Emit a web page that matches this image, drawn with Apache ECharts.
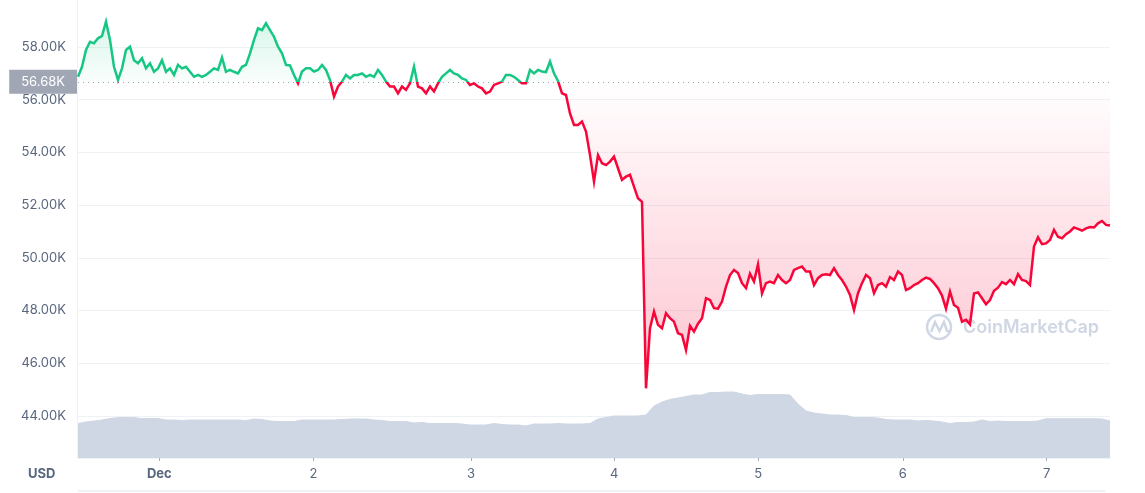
<!DOCTYPE html>
<html><head><meta charset="utf-8">
<script src="https://cdn.jsdelivr.net/npm/echarts@6/dist/echarts.min.js"></script>
<style>html,body{margin:0;padding:0;background:#fff}#c{width:1145px;height:493px}</style>
</head><body><div id="c"></div>
<script>
// Price in thousands of USD, one sample per step along the x index
const prices = [
56.87,57.25,57.89,58.2,58.14,58.33,58.42,58.96,58.27,57.25,
56.75,57.19,57.89,58.01,57.5,57.38,57.57,57.19,57.38,57.06,
57.19,57.5,57.06,57.19,56.94,57.32,57.19,57.25,57.06,56.87,
56.94,56.87,56.94,57.06,57.19,57.13,57.6,57.06,57.13,57.06,
57.0,57.25,57.32,57.76,58.27,58.71,58.64,58.9,58.64,58.39,
58.01,57.76,57.32,57.3,56.94,56.62,57.07,57.19,57.19,57.07,
57.13,57.32,57.13,56.75,56.12,56.5,56.69,56.94,56.81,56.94,
56.94,57.0,56.87,56.94,56.87,57.13,56.94,56.69,56.5,56.5,
56.24,56.5,56.37,56.62,57.26,56.5,56.43,56.24,56.5,56.31,
56.62,56.87,57.0,57.13,57.0,56.94,56.81,56.75,56.56,56.62,
56.5,56.43,56.24,56.31,56.56,56.62,56.69,56.94,56.94,56.87,
56.75,56.62,56.62,57.13,57.0,57.13,57.07,57.05,57.45,57.0,
56.71,56.24,56.18,55.48,55.04,55.04,55.17,54.79,53.9,52.89,
53.9,53.59,53.52,53.65,53.84,53.4,52.96,53.08,53.15,52.7,
52.26,52.13,45.05,47.33,47.96,47.46,47.33,47.9,47.71,47.58,
47.14,47.08,46.5,47.42,47.2,47.5,47.71,48.47,48.4,48.09,
48.07,48.34,48.91,49.35,49.54,49.42,49.04,48.85,49.4,49.1,
49.75,48.65,49.04,49.1,49.04,49.35,49.16,49.04,49.16,49.54,
49.61,49.67,49.48,49.48,48.97,49.23,49.35,49.38,49.35,49.61,
49.35,49.16,48.91,48.59,48.02,48.66,49.04,49.35,49.23,48.66,
48.97,49.04,48.91,49.27,49.16,49.48,49.35,48.78,48.85,48.97,
49.04,49.16,49.25,49.2,49.04,48.85,48.57,48.07,48.72,48.21,
48.11,47.58,47.65,47.48,48.65,48.69,48.47,48.24,48.4,48.75,
48.87,49.08,49.0,49.16,49.0,49.38,49.16,49.12,48.97,50.43,
50.78,50.52,50.55,50.68,51.06,50.8,50.74,50.9,51.0,51.15,
51.1,51.03,51.12,51.17,51.15,51.31,51.4,51.25,51.23
];
// Relative trading volume, one sample per two price steps
const volume = [
34.5,36,37,38,39.5,40.4,40.4,40.4,39.4,39.4,
39.4,38,38,37.5,38,38,38,38,38,38,
38,37.5,39,38.5,37,36.5,36.5,36.5,38,38,
38,38,38,38.5,39,39,39,38,37.5,36.5,
36.5,36.5,35,35.5,34.5,34.5,34.5,34.5,34,33,
33,33,34.5,33.5,33,33,32,34,34,34,
34.5,34,34,34,34.5,39,40.5,42,42,42,
42,43,52,56,58.6,60,61.5,63,63,65.5,
65.5,66,66,64,62.5,63.5,63.5,63.5,63.5,63,
54,47,45,44,43,43,42.5,40.5,40.4,40.4,
40,38.5,38,38,38,37,37.5,37,36,34.5,
35.5,35.5,36,38,36.5,37,36.5,36.5,36.5,36.5,
37,39.3,39.3,39.3,39.3,39.3,39.3,39.3,39,37
];
const baseline = 56.68;
const dayTickPos = [20.33, 58.88, 98.25, 134.08, 170.05, 206.2, 242.18];
const dayTickLabels = ['Dec', '2', '3', '4', '5', '6', '7'];
const yMin = 44, yMax = 58, yStep = 2;

const GREEN = '#16c784', RED = '#f8063a', TXT = '#58667e', GRID = '#eff2f5';
const N = prices.length - 1;
const priceData = prices.map((v, i) => [i, v]);
const aboveData = prices.map((v, i) => [i, Math.max(v, baseline)]);
const belowData = prices.map((v, i) => [i, Math.min(v, baseline)]);
const volData = volume.map((v, j) => [j * 2, v]);

const chart = echarts.init(document.getElementById('c'), null, {renderer: 'canvas'});
chart.setOption({
  animation: false,
  textStyle: {fontFamily: 'Inter'},
  grid: [
    {left: 78, right: 35, top: 47, bottom: 77},
    {left: 78, right: 35, top: 380, bottom: 35}
  ],
  xAxis: [
    {type: 'value', gridIndex: 0, min: 0, max: N, show: false},
    {type: 'value', gridIndex: 1, min: 0, max: N,
      splitLine: {show: false},
      axisLine: {show: true, lineStyle: {color: GRID, width: 1}},
      axisTick: {show: true, customValues: dayTickPos, length: 3, lineStyle: {color: '#a6b0c3'}},
      axisLabel: {
        customValues: dayTickPos, margin: 10, color: TXT, fontSize: 13,
        formatter: v => {
          let k = -1, best = 1e9;
          dayTickPos.forEach((p, idx) => { const d = Math.abs(p - v); if (d < best) { best = d; k = idx; } });
          const t = dayTickLabels[k];
          return isNaN(+t) ? '{b|' + t + '}' : t;
        },
        rich: {b: {fontWeight: 'bold', fontSize: 13, color: TXT, fontFamily: 'Inter'}}
      }
    }
  ],
  yAxis: [
    {type: 'value', gridIndex: 0, min: yMin, max: yMax, interval: yStep,
      axisLine: {show: false}, axisTick: {show: false},
      splitLine: {lineStyle: {color: GRID, width: 1}},
      axisLabel: {margin: 12, color: TXT, fontSize: 13, formatter: v => v.toFixed(2) + 'K'}
    },
    {type: 'value', gridIndex: 1, min: 0, max: 78, show: false}
  ],
  graphic: [
    {type: 'line', shape: {x1: 77.5, y1: 0, x2: 77.5, y2: 458}, style: {stroke: GRID, lineWidth: 1}, silent: true},
    {type: 'rect', shape: {x: 78, y: 490, width: 1027, height: 2}, style: {fill: GRID}, silent: true},
    {type: 'text', x: 28, y: 474, style: {text: 'USD', font: 'bold 13px Inter', fill: TXT, verticalAlign: 'middle'}, silent: true},
    {type: 'circle', shape: {cx: 939, cy: 327, r: 12}, style: {fill: 'none', stroke: '#cfd6e4', lineWidth: 2.5}, silent: true},
    {type: 'polyline', shape: {points: [[931, 332], [935, 322], [939.5, 331], [944, 322], [947, 331], [951, 332]]},
      style: {fill: 'none', stroke: '#cfd6e4', lineWidth: 2.5}, silent: true},
    {type: 'text', x: 963, y: 328, style: {text: 'CoinMarketCap', font: '600 18px Inter', fill: '#cfd6e4', verticalAlign: 'middle'}, silent: true}
  ],
  series: [
    {
      id: 'price', type: 'line', xAxisIndex: 0, yAxisIndex: 0, data: priceData, clip: false, z: 5,
      symbol: 'none', showSymbol: false, lineStyle: {width: 2.5, color: RED, join: 'miter'},
      markLine: {
        silent: true, symbol: 'none',
        lineStyle: {type: [1, 4], color: '#9aa1ae', width: 1},
        label: {
          position: 'start', distance: 1, formatter: () => baseline.toFixed(2) + 'K',
          backgroundColor: '#a0a6b4', color: '#fff', fontSize: 13, padding: [6, 12, 5, 12], fontFamily: 'Inter'
        },
        data: [{yAxis: baseline}]
      }
    },
    {
      type: 'line', xAxisIndex: 0, yAxisIndex: 0, data: aboveData, clip: false, z: 3,
      symbol: 'none', showSymbol: false, lineStyle: {width: 0, opacity: 0}, silent: true,
      areaStyle: {origin: baseline, color: new echarts.graphic.LinearGradient(0, 0, 0, 1, [
        {offset: 0, color: 'rgba(22,199,132,0.24)'}, {offset: 1, color: 'rgba(22,199,132,0.03)'}])}
    },
    {
      type: 'line', xAxisIndex: 0, yAxisIndex: 0, data: belowData, clip: false, z: 3,
      symbol: 'none', showSymbol: false, lineStyle: {width: 0, opacity: 0}, silent: true,
      areaStyle: {origin: baseline, color: new echarts.graphic.LinearGradient(0, 0, 0, 1, [
        {offset: 0, color: 'rgba(248,6,58,0.0)'}, {offset: 1, color: 'rgba(248,6,58,0.34)'}])}
    },
    {
      type: 'line', xAxisIndex: 1, yAxisIndex: 1, data: volData, z: 2,
      symbol: 'none', showSymbol: false, silent: true,
      lineStyle: {width: 1, color: '#cfd6e4'},
      areaStyle: {color: '#cfd6e4', opacity: 1}
    }
  ]
});
// colour the price line green above the reference price and red below it
const H = 493;
const yb = chart.convertToPixel({yAxisIndex: 0}, baseline);
const f = Math.min(1, Math.max(0, yb / H));
chart.setOption({
  series: [{
    id: 'price',
    lineStyle: {color: new echarts.graphic.LinearGradient(0, 0, 0, H, [
      {offset: 0, color: GREEN}, {offset: f, color: GREEN},
      {offset: f, color: RED}, {offset: 1, color: RED}], true)}
  }]
});
</script>
</body></html>
